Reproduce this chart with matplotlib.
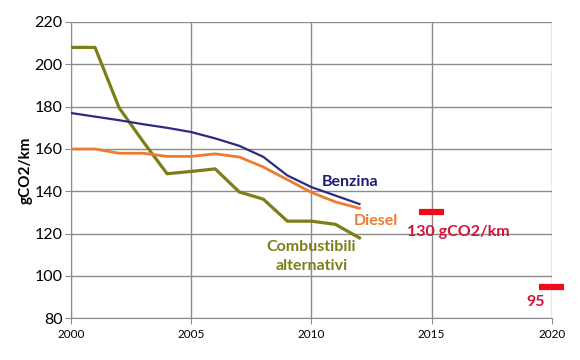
import matplotlib
matplotlib.use('Agg')
import matplotlib.pyplot as plt

plt.rcParams['font.family'] = ['Lato', 'DejaVu Sans']

years = [2000, 2001, 2002, 2003, 2004, 2005, 2006, 2007, 2008, 2009, 2010, 2011, 2012]
benzina = [177, 175.3, 173.6, 171.7, 170, 168, 165, 161.5, 156.3, 147.5, 142, 138, 134]
diesel = [160, 160, 158, 158, 156.5, 156.5, 157.7, 156.2, 151.5, 145.5, 139.5, 135, 132]
alternativi = [208, 208, 179.5, 163.5, 148.3, 149.4, 150.6, 139.7, 136.3, 125.9, 125.9, 124.4, 118]

target_years = [2015, 2020]
target_values = [130, 95]
target_labels = ['130 gCO2/km', '95']

C_BENZ = '#2B2B7F'
C_DIES = '#EE7B30'
C_ALT = '#7E7E18'
C_RED = '#EE0A1A'
C_REDTXT = '#D2143A'
GRID = '#8C8C8C'

fig = plt.figure(figsize=(5.8, 3.6), dpi=100)
ax = fig.add_axes([0.1224, 0.1158, 0.9512 - 0.1224, 0.9389 - 0.1158])

ax.plot(years, alternativi, color=C_ALT, lw=2.3, zorder=3)
ax.plot(years, diesel, color=C_DIES, lw=2.0, zorder=4)
ax.plot(years, benzina, color=C_BENZ, lw=1.6, zorder=5)

for yr, v in zip(target_years, target_values):
    ax.plot([yr - 0.52, yr + 0.52], [v, v], color=C_RED, lw=4.5,
            solid_capstyle='butt', clip_on=False, zorder=6)

ax.set_xlim(2000, 2020)
ax.set_ylim(80, 220)
ax.set_xticks(range(2000, 2021, 5))
ax.set_yticks(range(80, 221, 20))
ax.grid(True, color=GRID, lw=1.0)
ax.set_axisbelow(True)
for s in ax.spines.values():
    s.set_color(GRID)
ax.spines['top'].set_visible(False)
ax.spines['right'].set_visible(False)
ax.tick_params(axis='y', labelsize=11.5, length=4, color=GRID, pad=2)
ax.tick_params(axis='x', labelsize=8.5, length=4, color=GRID, pad=4)
ax.set_ylabel('gCO2/km', fontsize=11, fontweight='bold', labelpad=1)

fs = 11.5
ax.text(2010.45, 144.3, 'Benzina', color='#1C1C70', fontsize=fs, fontweight='bold', va='center')
ax.text(2011.75, 125.9, 'Diesel', color=C_DIES, fontsize=fs, fontweight='bold', va='center')
ax.text(2010.0, 109.3, 'Combustibili\nalternativi', color=C_ALT, fontsize=fs,
        fontweight='bold', ha='center', va='center', linespacing=1.45)
ax.text(2014.0, 120.7, target_labels[0], color=C_REDTXT, fontsize=fs, fontweight='bold', va='center')
ax.text(2019.35, 87.5, target_labels[1], color=C_REDTXT, fontsize=fs, fontweight='bold',
        ha='center', va='center')

fig.savefig('out.png', dpi=100)
